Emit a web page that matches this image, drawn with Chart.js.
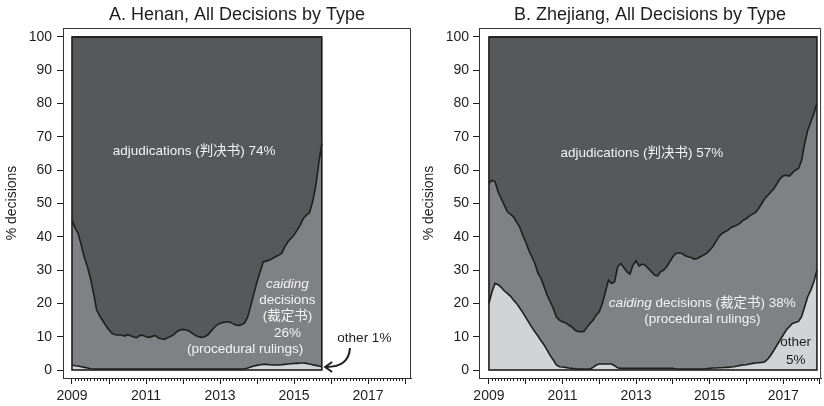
<!DOCTYPE html>
<html>
<head>
<meta charset="utf-8">
<script src="https://cdn.jsdelivr.net/npm/chart.js@4/dist/chart.umd.min.js"></script>
<style>
  body { margin: 0; background: #fff; }
  .panel { position: absolute; top: 0; width: 412px; height: 406px; }
</style>
</head>
<body>
<div class="panel" style="left:0"><canvas id="henanChart"></canvas></div>
<div class="panel" style="left:412px"><canvas id="zhejiangChart"></canvas></div>
<script>
// =======================================
// DATA (monthly shares, % of decisions)
// =======================================

const yearTicks = [2009, 2010, 2011, 2012, 2013, 2014, 2015, 2016, 2017, 2018];
const yearLabels = ["2009", "2011", "2013", "2015", "2017"];
const pctTicks = [0, 10, 20, 30, 40, 50, 60, 70, 80, 90, 100];

// Henan, Jan 2009 - Oct 2015
const henanOther = [
  1.5, 1.3, 1.2, 1.0, 0.8, 0.6, 0.4, 0.3, 0.3, 0.3,
  0.3, 0.3, 0.3, 0.3, 0.3, 0.3, 0.3, 0.3, 0.3, 0.3,
  0.3, 0.3, 0.3, 0.3, 0.3, 0.3, 0.3, 0.3, 0.3, 0.3,
  0.3, 0.3, 0.3, 0.3, 0.3, 0.3, 0.3, 0.3, 0.3, 0.3,
  0.3, 0.3, 0.3, 0.3, 0.3, 0.3, 0.3, 0.3, 0.3, 0.3,
  0.3, 0.3, 0.3, 0.3, 0.3, 0.3, 0.4, 0.6, 0.9, 1.2,
  1.4, 1.6, 1.7, 1.7, 1.6, 1.5, 1.5, 1.5, 1.6, 1.7,
  1.8, 1.9, 2.0, 2.0, 2.1, 2.1, 2.0, 1.8, 1.6, 1.4,
  1.2, 1.0
];
const henanCaiding = [
  43.5, 41.3, 39.8, 36.5, 33.0, 30.4, 27.1, 22.7, 17.7, 15.9,
  14.5, 13.0, 11.7, 10.7, 10.3, 10.2, 10.3, 9.9, 10.3, 10.0,
  9.6, 9.4, 10.1, 10.1, 9.7, 9.5, 9.8, 10.1, 9.3, 9.1,
  8.9, 9.4, 9.8, 10.3, 11.2, 11.7, 11.9, 11.7, 11.4, 10.7,
  10.1, 9.7, 9.5, 9.7, 10.2, 11.3, 12.3, 13.2, 13.7, 14.0,
  14.1, 14.2, 13.7, 13.2, 13.1, 13.3, 13.8, 15.4, 18.5, 21.8,
  25.1, 27.9, 30.8, 31.0, 31.4, 32.0, 32.5, 33.0, 33.4, 35.3,
  36.7, 37.6, 38.5, 40.0, 41.4, 43.4, 44.5, 45.4, 48.9, 53.6,
  60.8, 67.0
];

// Zhejiang, Jan 2009 - Dec 2017
const zhejiangOther = [
  20.0, 23.5, 26.0, 25.6, 24.8, 23.8, 23.0, 22.2, 21.0, 20.0,
  18.7, 17.3, 15.8, 14.3, 12.8, 11.5, 10.2, 8.8, 7.5, 6.0,
  4.3, 3.0, 1.5, 1.0, 0.9, 0.8, 0.6, 0.5, 0.4, 0.3,
  0.3, 0.3, 0.3, 0.3, 0.8, 1.5, 1.8, 1.8, 1.8, 1.8,
  1.8, 1.3, 0.7, 0.5, 0.5, 0.5, 0.5, 0.5, 0.5, 0.5,
  0.5, 0.5, 0.5, 0.5, 0.5, 0.5, 0.5, 0.5, 0.5, 0.5,
  0.5, 0.3, 0.3, 0.3, 0.3, 0.3, 0.3, 0.3, 0.3, 0.3,
  0.3, 0.4, 0.5, 0.6, 0.6, 0.7, 0.7, 0.8, 0.8, 0.9,
  1.0, 1.2, 1.4, 1.5, 1.6, 1.8, 2.0, 2.1, 2.2, 2.3,
  2.5, 3.3, 4.5, 6.0, 7.5, 9.0, 10.5, 12.0, 13.0, 14.0,
  14.3, 14.6, 16.0, 19.0, 22.0, 24.0, 26.5, 30.0
];
const zhejiangCaiding = [
  36.0, 33.5, 30.5, 27.9, 26.7, 25.7, 24.5, 24.6, 25.0, 24.5,
  24.3, 23.2, 22.7, 21.7, 21.2, 20.5, 18.8, 18.7, 17.5, 16.5,
  16.2, 15.5, 14.5, 14.0, 13.6, 13.4, 12.9, 12.5, 11.6, 11.3,
  11.2, 11.3, 12.5, 13.7, 14.2, 15.0, 15.7, 18.2, 21.7, 25.2,
  24.2, 25.2, 30.3, 31.5, 30.3, 29.0, 28.3, 31.0, 32.3, 30.7,
  31.3, 31.0, 30.0, 29.0, 28.0, 27.8, 29.0, 29.5, 30.5, 32.0,
  33.5, 34.7, 34.9, 34.7, 34.0, 33.7, 33.5, 33.0, 33.2, 33.7,
  34.2, 34.6, 35.5, 36.4, 37.9, 39.3, 40.3, 40.7, 41.2, 41.9,
  42.2, 42.3, 42.8, 43.5, 43.9, 44.5, 44.8, 45.2, 46.3, 47.7,
  49.0, 49.2, 49.0, 48.5, 48.5, 48.5, 47.8, 46.5, 45.2, 45.2,
  45.7, 45.9, 47.0, 49.0, 50.0, 50.5, 50.5, 50.0
];

// =======================================
// STYLE
// =======================================

const FONT = '"Liberation Sans", Arial, "Noto Sans CJK SC", sans-serif';
const INK = "#1e1e1e";
const LIGHT_TEXT = "#f3f3f3";

Chart.defaults.font.family = FONT;
Chart.defaults.color = INK;

// months as decimal years, first month = Jan 2009
function monthAxis(values) {
    return values.map((v, i) => 2009 + i / 12);
}

// adjudications are whatever is left of 100%
function remainder(other, caiding) {
    return other.map((v, i) => +(100 - v - caiding[i]).toFixed(1));
}

// outline of the data block, labels, arrow, frame and month ticks
const panelDecor = {
    id: "panelDecor",
    afterDatasetsDraw(chart, args, opts) {
        const { ctx, scales: { x, y } } = chart;
        const labels = chart.data.labels;
        const x0 = x.getPixelForValue(labels[0]);
        const x1 = x.getPixelForValue(labels[labels.length - 1]);
        const yTop = y.getPixelForValue(100);
        const yBot = y.getPixelForValue(0);

        ctx.save();
        ctx.strokeStyle = INK;
        ctx.lineWidth = 1.6;
        ctx.strokeRect(x0, yTop, x1 - x0, yBot - yTop);

        ctx.textBaseline = "middle";
        (opts.notes || []).forEach(n => {
            const px = x.getPixelForValue(n.x);
            const py = y.getPixelForValue(n.y);
            const runs = n.runs.map(r => ({
                text: r.text,
                font: (r.italic ? "italic " : "") + "13.5px " + FONT
            }));
            let total = 0;
            runs.forEach(r => { ctx.font = r.font; r.w = ctx.measureText(r.text).width; total += r.w; });
            let cx = px - total / 2;
            ctx.fillStyle = n.color || LIGHT_TEXT;
            ctx.textAlign = "left";
            runs.forEach(r => { ctx.font = r.font; ctx.fillText(r.text, cx, py); cx += r.w; });
        });

        if (opts.arrow) {
            const a = opts.arrow;
            const sx = x.getPixelForValue(a.from[0]), sy = y.getPixelForValue(a.from[1]);
            const ex = x.getPixelForValue(a.to[0]), ey = y.getPixelForValue(a.to[1]);
            ctx.strokeStyle = INK;
            ctx.lineWidth = 2;
            ctx.beginPath();
            ctx.moveTo(sx, sy);
            ctx.quadraticCurveTo(sx - 1, ey, ex + 1, ey);
            ctx.stroke();
            ctx.beginPath();
            ctx.moveTo(ex + 7, ey - 5);
            ctx.lineTo(ex, ey);
            ctx.lineTo(ex + 7, ey + 5);
            ctx.stroke();
        }
        ctx.restore();
    },
    afterDraw(chart) {
        const { ctx, chartArea: a, scales: { x } } = chart;
        ctx.save();
        ctx.strokeStyle = "#333";
        ctx.lineWidth = 1;
        ctx.beginPath();
        ctx.moveTo(a.left, a.top + 0.5);
        ctx.lineTo(a.right - 0.5, a.top + 0.5);
        ctx.lineTo(a.right - 0.5, a.bottom);
        ctx.stroke();

        // minor ticks, one per month
        ctx.strokeStyle = INK;
        ctx.beginPath();
        for (let k = 1; k < (yearTicks.length - 1) * 12; k++) {
            if (k % 12 === 0) continue;
            const px = Math.round(x.getPixelForValue(yearTicks[0] + k / 12)) + 0.5;
            if (px > a.right) break;
            ctx.moveTo(px, a.bottom);
            ctx.lineTo(px, a.bottom + 3);
        }
        ctx.stroke();
        ctx.restore();
    }
};

function makePanel(canvasId, p) {
    return new Chart(document.getElementById(canvasId), {
        type: "line",
        data: {
            labels: monthAxis(p.other),
            datasets: [
                { label: "other", data: p.other, backgroundColor: "#d2d3d5", fill: "origin" },
                { label: "caiding decisions", data: p.caiding, backgroundColor: "#808184", fill: "-1" },
                { label: "adjudications", data: remainder(p.other, p.caiding), backgroundColor: "#57585a", fill: "-1" }
            ].map(d => Object.assign(d, {
                borderColor: INK, borderWidth: 1.6, pointRadius: 0, tension: 0
            }))
        },
        options: {
            responsive: true,
            maintainAspectRatio: false,
            animation: false,
            layout: { padding: { left: 0, right: 1, top: 0, bottom: 0 } },
            scales: {
                x: {
                    type: "linear",
                    min: p.xMin,
                    max: p.xMax,
                    afterBuildTicks: axis => { axis.ticks = yearTicks.map(v => ({ value: v })); },
                    afterFit: axis => { axis.height = 28; },
                    grid: { drawOnChartArea: false, tickLength: 6, tickColor: INK },
                    border: { display: true, color: "#333", width: 1 },
                    ticks: {
                        autoSkip: false,
                        maxRotation: 0,
                        padding: 4,
                        font: { size: 14 },
                        callback: v => yearLabels.includes(String(v)) ? String(v) : ""
                    }
                },
                y: {
                    stacked: true,
                    min: -2.4,
                    max: 102.7,
                    afterBuildTicks: axis => { axis.ticks = pctTicks.map(v => ({ value: v })); },
                    afterFit: axis => { axis.width = p.yWidth; },
                    grid: { drawOnChartArea: false, tickLength: 6, tickColor: INK },
                    border: { display: true, color: "#333", width: 1 },
                    ticks: { padding: p.tickPad, font: { size: 14 } },
                    title: {
                        display: true,
                        text: "% decisions",
                        font: { size: 14 },
                        padding: { top: p.titlePad, bottom: 0 }
                    }
                }
            },
            plugins: {
                legend: { display: false },
                tooltip: { enabled: false },
                title: {
                    display: true,
                    fullSize: false,
                    text: p.title,
                    color: INK,
                    font: { size: 18, weight: "normal" },
                    padding: { top: 4, bottom: 2.4 }
                },
                panelDecor: { notes: p.notes, arrow: p.arrow }
            }
        },
        plugins: [panelDecor]
    });
}

// =======================================
// A. HENAN
// =======================================

makePanel("henanChart", {
    title: "A. Henan, All Decisions by Type",
    other: henanOther,
    caiding: henanCaiding,
    xMin: 2008.757,
    xMax: 2018.16,
    yWidth: 63,
    tickPad: 5,
    titlePad: 4,
    notes: [
        { x: 2012.3, y: 65.8, runs: [{ text: "adjudications (判决书) 74%" }] },
        { x: 2014.82, y: 25.8, runs: [{ text: "caiding", italic: true }] },
        { x: 2014.82, y: 21.0, runs: [{ text: "decisions" }] },
        { x: 2014.82, y: 16.2, runs: [{ text: "(裁定书)" }] },
        { x: 2014.82, y: 11.1, runs: [{ text: "26%" }] },
        { x: 2013.68, y: 6.3, runs: [{ text: "(procedural rulings)" }] },
        { x: 2016.9, y: 9.6, runs: [{ text: "other 1%" }], color: INK }
    ],
    arrow: { from: [2016.51, 6.6], to: [2015.84, 0.9] }
});

// =======================================
// B. ZHEJIANG
// =======================================

makePanel("zhejiangChart", {
    title: "B. Zhejiang, All Decisions by Type",
    other: zhejiangOther,
    caiding: zhejiangCaiding,
    xMin: 2008.73,
    xMax: 2018.03,
    yWidth: 67,
    tickPad: 4,
    titlePad: 9,
    notes: [
        { x: 2013.16, y: 65.2, runs: [{ text: "adjudications (判决书) 57%" }] },
        { x: 2014.8, y: 20.1, runs: [{ text: "caiding", italic: true }, { text: " decisions (裁定书) 38%" }] },
        { x: 2014.8, y: 15.3, runs: [{ text: "(procedural rulings)" }] },
        { x: 2017.34, y: 8.2, runs: [{ text: "other" }], color: INK },
        { x: 2017.34, y: 3.0, runs: [{ text: "5%" }], color: INK }
    ]
});
</script>
</body>
</html>
